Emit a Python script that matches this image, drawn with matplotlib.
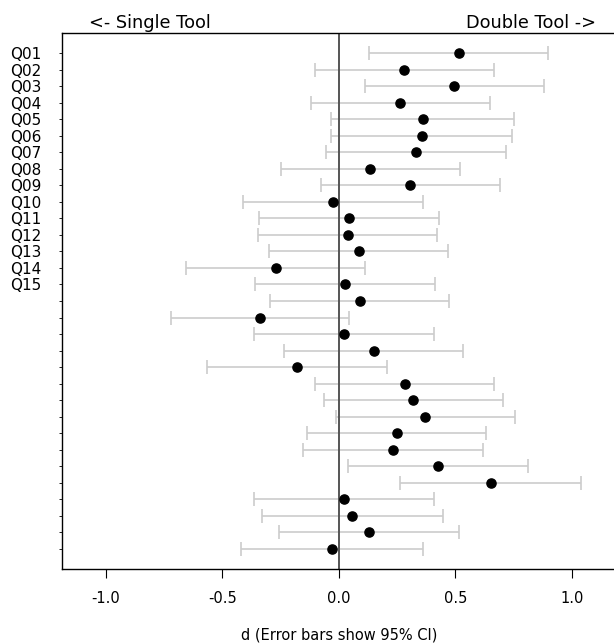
import matplotlib
matplotlib.use("Agg")
import matplotlib.pyplot as plt
import numpy as np

# effect sizes (d) with 95% CI, top row first
d = [0.515, 0.280, 0.493, 0.263, 0.361, 0.356, 0.331, 0.134, 0.305, -0.025,
     0.044, 0.037, 0.084, -0.272, 0.027, 0.091, -0.339, 0.022, 0.149, -0.180,
     0.282, 0.319, 0.369, 0.248, 0.233, 0.426, 0.651, 0.020, 0.057, 0.129,
     -0.029]
lo = [0.131, -0.104, 0.111, -0.119, -0.032, -0.032, -0.055, -0.250, -0.079, -0.411,
      -0.341, -0.349, -0.300, -0.658, -0.359, -0.294, -0.721, -0.364, -0.237, -0.564,
      -0.102, -0.064, -0.013, -0.136, -0.153, 0.040, 0.263, -0.364, -0.332, -0.257,
      -0.418]
hi = [0.898, 0.664, 0.878, 0.648, 0.753, 0.742, 0.715, 0.520, 0.691, 0.359,
      0.431, 0.421, 0.470, 0.111, 0.413, 0.473, 0.045, 0.408, 0.534, 0.205,
      0.666, 0.703, 0.757, 0.633, 0.619, 0.812, 1.039, 0.406, 0.446, 0.515,
      0.361]
labels = ["Q%02d" % i for i in range(1, 16)] + [""] * 16
xticks = [-1.0, -0.5, 0.0, 0.5, 1.0]

plt.rcParams['font.family'] = ['DejaVu Sans']

fig = plt.figure(figsize=(6.14, 6.44), dpi=100)
ax = fig.add_axes([0.101, 0.1165, 0.902, 0.8323])

d = np.array(d)
lo = np.array(lo)
hi = np.array(hi)
y = np.arange(1, len(d) + 1)

ax.axvline(0, color="#555555", lw=1.4, zorder=2)
ax.errorbar(d, y, xerr=[d - lo, hi - d], fmt="none", ecolor="#cccccc",
            elinewidth=1.2, capsize=4.7, capthick=1.2, zorder=1)
ax.plot(d, y, "o", color="black", ms=6.6, zorder=3)

ax.set_xlim(-1.188, 1.188)
ax.set_ylim(len(d) + 1.21, 1 - 1.21)
ax.set_xticks(xticks)
ax.set_xticklabels(["%.1f" % t for t in xticks], fontsize=10.5)
ax.set_yticks(y)
ax.set_yticklabels(labels, fontsize=11)
ax.tick_params(axis="x", length=6.5, width=0.8, pad=9)
ax.tick_params(axis="y", length=2, width=0.6, pad=13)
ax.spines["right"].set_visible(False)
for s in ["left", "top", "bottom"]:
    ax.spines[s].set_linewidth(1.0)

ax.set_xlabel("d (Error bars show 95% CI)", fontsize=10.5, labelpad=16)

fig.text(89 / 614, 1 - 28 / 644, "<- Single Tool", fontsize=12.8, va="baseline", ha="left")
fig.text(596 / 614, 1 - 28 / 644, "Double Tool ->", fontsize=12.8, va="baseline", ha="right")

fig.savefig("out.png", dpi=100)
